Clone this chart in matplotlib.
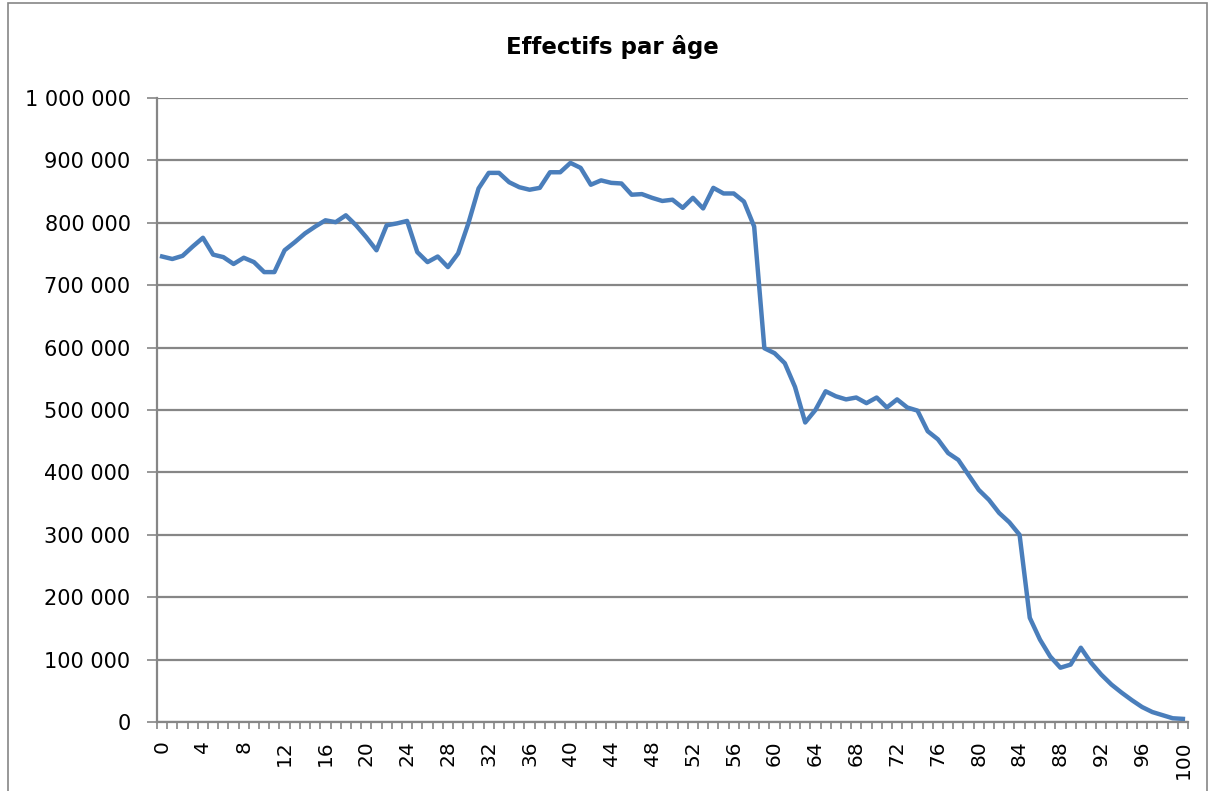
import matplotlib
matplotlib.use("Agg")
import matplotlib.pyplot as plt
from matplotlib.patches import Rectangle
from matplotlib.ticker import FuncFormatter, MultipleLocator
import numpy as np

# Âges de 0 à 100 ans
ages = list(range(0, 101))

# Effectifs (en milliers)
effectifs_k = [
    746, 742, 747, 762, 776, 749, 745, 734, 744, 737,   # 0-9
    721, 721, 756, 769, 783, 794, 804, 801, 812, 796,   # 10-19
    777, 756, 796, 799, 803, 753, 737, 746, 729, 751,   # 20-29
    799, 855, 880, 880, 865, 857, 853, 856, 881, 881,   # 30-39
    896, 888, 861, 868, 864, 863, 845, 846, 840, 835,   # 40-49
    837, 824, 840, 823, 856, 847, 847, 834, 794, 599,   # 50-59
    591, 575, 537, 480, 500, 530, 522, 517, 520, 511,   # 60-69
    520, 504, 517, 504, 499, 466, 453, 431, 420, 396,   # 70-79
    372, 356, 335, 320, 300, 167, 132, 105, 87, 92,     # 80-89
    119, 95, 76, 60, 47, 35, 24, 16, 11, 6,             # 90-99
    5,                                                  # 100
]
effectifs = [v * 1000 for v in effectifs_k]

titre = "Effectifs par âge"

W, H = 1214, 791
fig = plt.figure(figsize=(W / 100, H / 100), dpi=100)

# Cadre extérieur du graphique (style tableur)
fig.patches.append(Rectangle((8 / W, -0.1), (1207 - 8) / W, 1.1 - 3 / H,
                             transform=fig.transFigure, fill=False,
                             edgecolor="#868686", linewidth=1.2))

left, right, top, bottom = 157, 1188, 98, 722
ax = fig.add_axes([left / W, 1 - bottom / H, (right - left) / W, (bottom - top) / H])

ax.plot(ages, effectifs, color="#4A7EBB", linewidth=3.2, solid_joinstyle="round")

ax.set_xlim(-0.5, 100.5)
ax.set_ylim(0, 1_000_000)

# Grille horizontale
ax.yaxis.set_major_locator(MultipleLocator(100_000))
ax.grid(axis="y", color="#868686", linewidth=1.6)
ax.set_axisbelow(True)

def format_milliers(v, pos):
    return f"{int(v):,}".replace(",", " ")

ax.yaxis.set_major_formatter(FuncFormatter(format_milliers))

# Axe des x : étiquettes tous les 4 ans, graduations entre catégories
ax.set_xticks(ages[::4])
ax.set_xticklabels([str(a) for a in ages[::4]], rotation=90)
ax.set_xticks(np.arange(-0.5, 101, 1), minor=True)
ax.tick_params(axis="x", which="major", length=0, pad=13, labelsize=14.5)
ax.tick_params(axis="x", which="minor", length=5, width=1.2, color="#868686", direction="out")
ax.tick_params(axis="y", length=7, width=1.2, color="#868686", pad=12, labelsize=15)

for s in ("top", "right"):
    ax.spines[s].set_visible(False)
for s in ("left", "bottom"):
    ax.spines[s].set_color("#868686")
    ax.spines[s].set_linewidth(1.6)

fig.text(612 / W, 1 - 47 / H, titre, ha="center", va="center",
         fontsize=16.5, fontweight="bold")

fig.savefig("out.png", dpi=100)
